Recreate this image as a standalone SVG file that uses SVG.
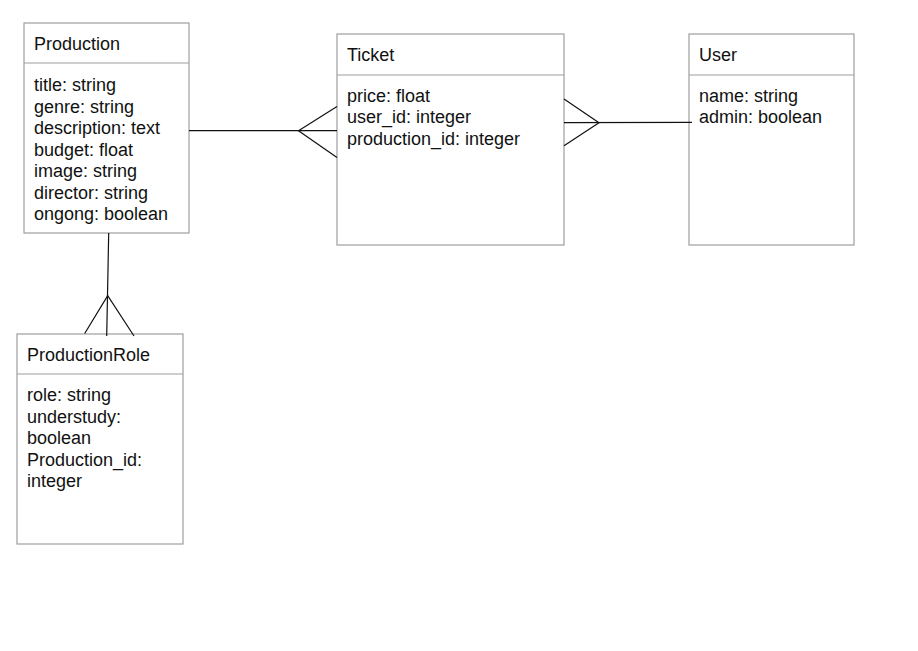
<svg xmlns="http://www.w3.org/2000/svg" width="918" height="651" viewBox="0 0 918 651">
<style>
.box{fill:#ffffff;stroke:#9e9e9e;stroke-width:1.2}
.div{stroke:#9e9e9e;stroke-width:1.2}
text{font-family:"Liberation Sans",Arial,sans-serif;font-size:18px;fill:#111}
.c{fill:none;stroke:#111;stroke-width:1.2}
</style>
<rect x="0" y="0" width="918" height="651" fill="#ffffff"/>
<g id="Production">
<rect class="box" x="24" y="23" width="165" height="210"/>
<line class="div" x1="24" y1="63" x2="189" y2="63"/>
<text x="34" y="50">Production</text>
<text x="34" y="91">title: string</text>
<text x="34" y="112.5">genre: string</text>
<text x="34" y="134">description: text</text>
<text x="34" y="155.5">budget: float</text>
<text x="34" y="177">image: string</text>
<text x="34" y="198.5">director: string</text>
<text x="34" y="220">ongong: boolean</text>
</g>
<g id="Ticket">
<rect class="box" x="337" y="34" width="227" height="211"/>
<line class="div" x1="337" y1="75" x2="564" y2="75"/>
<text x="347" y="61">Ticket</text>
<text x="347" y="101.5">price: float</text>
<text x="347" y="123">user_id: integer</text>
<text x="347" y="144.5">production_id: integer</text>
</g>
<g id="User">
<rect class="box" x="689" y="34" width="165" height="211"/>
<line class="div" x1="689" y1="75" x2="854" y2="75"/>
<text x="699" y="61">User</text>
<text x="699" y="101.5">name: string</text>
<text x="699" y="123">admin: boolean</text>
</g>
<g id="ProductionRole">
<rect class="box" x="17" y="334" width="166" height="210"/>
<line class="div" x1="17" y1="374" x2="183" y2="374"/>
<text x="27" y="361">ProductionRole</text>
<text x="27" y="401">role: string</text>
<text x="27" y="422.5">understudy:</text>
<text x="27" y="444">boolean</text>
<text x="27" y="465.5">Production_id:</text>
<text x="27" y="487">integer</text>
</g>
<g id="connectors">
<line class="c" x1="189" y1="130.7" x2="337" y2="130.7"/>
<polyline class="c" points="337,106.5 298.5,130.7 337,157.5"/>
<line class="c" x1="564" y1="122.7" x2="692" y2="122.3"/>
<polyline class="c" points="564,99 599,122.7 564,145.7"/>
<line class="c" x1="108.7" y1="233" x2="106.7" y2="336"/>
<polyline class="c" points="84.7,333.5 107.7,295.7 134,336"/>
</g>
</svg>
